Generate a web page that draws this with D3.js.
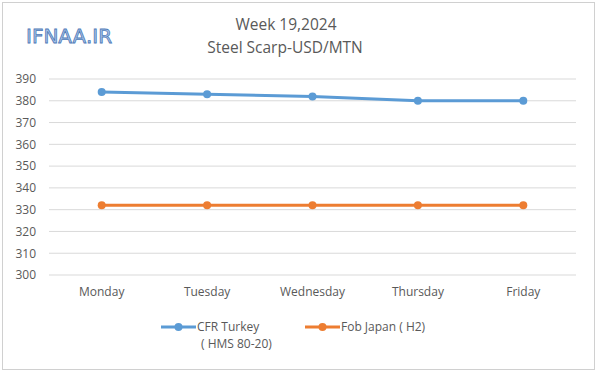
<!DOCTYPE html>
<html>
<head>
<meta charset="utf-8">
<script src="https://cdn.jsdelivr.net/npm/d3@7"></script>
<style>
  body { margin: 0; background: #fff; }
  text { font-family: "Open Sans", "Noto Sans", sans-serif; }
</style>
</head>
<body>
<div id="root"></div>
<script>
const days = ['Monday', 'Tuesday', 'Wednesday', 'Thursday', 'Friday'];
const cfrTurkey = [384, 383, 382, 380, 380];
const fobJapan = [332, 332, 332, 332, 332];
const yTicks = [300, 310, 320, 330, 340, 350, 360, 370, 380, 390];

const width = 600, height = 372;
const margin = { left: 49, right: 24, top: 79, bottom: 97 };

const svg = d3.select('#root').append('svg')
    .attr('width', width)
    .attr('height', height);

// outer frame
svg.append('rect')
    .attr('x', 2.5).attr('y', 2.5)
    .attr('width', 592).attr('height', 367)
    .attr('fill', '#fff')
    .attr('stroke', '#d0d0d0');

let x = d3.scaleBand().domain(days).range([margin.left, width - margin.right]),
    y = d3.scaleLinear().domain([300, 390]).range([height - margin.bottom, margin.top]);

// gridlines
svg.append('g')
    .selectAll('line')
    .data(yTicks)
    .enter()
    .append('line')
    .attr('x1', margin.left)
    .attr('x2', width - margin.right)
    .attr('y1', d => y(d))
    .attr('y2', d => y(d))
    .style('stroke', '#d9d9d9')
    .style('stroke-width', 1);

// y axis labels
let yAxis = svg.append('g')
    .attr('transform', `translate(${margin.left - 13},0)`)
    .call(d3.axisLeft(y).tickValues(yTicks).tickSize(0).tickPadding(0));
yAxis.select('.domain').remove();
yAxis.selectAll('text')
    .style('font-size', '12px')
    .style('fill', '#595959');

// x axis labels
let xAxis = svg.append('g')
    .attr('transform', `translate(0,${y(300) + 12})`)
    .call(d3.axisBottom(x).tickSize(0).tickPadding(0));
xAxis.select('.domain').remove();
xAxis.selectAll('text')
    .style('font-size', '12px')
    .style('fill', '#595959');

const series = [
    { name: 'CFR Turkey', values: cfrTurkey, color: '#5b9bd5' },
    { name: 'Fob Japan', values: fobJapan, color: '#ed7d31' }
];

let line = d3.line()
    .x((d, i) => x(days[i]) + x.bandwidth() / 2)
    .y(d => y(d));

series.forEach(s => {
    svg.append('path')
        .datum(s.values)
        .attr('d', line)
        .attr('fill', 'none')
        .attr('stroke', s.color)
        .attr('stroke-width', 3)
        .attr('stroke-linejoin', 'round');
    svg.append('g')
        .selectAll('circle')
        .data(s.values)
        .enter()
        .append('circle')
        .attr('cx', (d, i) => x(days[i]) + x.bandwidth() / 2)
        .attr('cy', d => y(d))
        .attr('r', 4)
        .attr('fill', s.color);
});

// title
svg.append('text')
    .attr('x', 286).attr('y', 30)
    .attr('text-anchor', 'middle')
    .style('font-size', '15.5px')
    .style('fill', '#595959')
    .text('Week 19,2024');
svg.append('text')
    .attr('x', 285).attr('y', 53)
    .attr('text-anchor', 'middle')
    .style('font-size', '15.5px')
    .style('fill', '#595959')
    .text('Steel Scarp-USD/MTN');

// logo
svg.append('text')
    .attr('x', 26).attr('y', 43)
    .style('font-size', '20px')
    .style('font-family', '"DejaVu Sans", sans-serif')
    .style('fill', '#a9c4e8')
    .style('stroke', '#4f7bb8')
    .style('stroke-width', 0.8)
    .text('IFNAA.IR');

// legend
let legend = svg.append('g');
let legendItems = [
    { color: '#5b9bd5', x: 161, lines: ['CFR Turkey', '( HMS 80-20)'] },
    { color: '#ed7d31', x: 305, lines: ['Fob Japan ( H2)'] }
];
legendItems.forEach(item => {
    legend.append('line')
        .attr('x1', item.x).attr('x2', item.x + 35)
        .attr('y1', 327).attr('y2', 327)
        .attr('stroke', item.color)
        .attr('stroke-width', 3);
    legend.append('circle')
        .attr('cx', item.x + 17.5).attr('cy', 327)
        .attr('r', 4)
        .attr('fill', item.color);
    item.lines.forEach((t, i) => {
        legend.append('text')
            .attr('x', item.x + 36 + (i ? 4 : 0))
            .attr('y', 331 + i * 17)
            .style('font-size', '12px')
            .style('fill', '#595959')
            .text(t);
    });
});
</script>
</body>
</html>
